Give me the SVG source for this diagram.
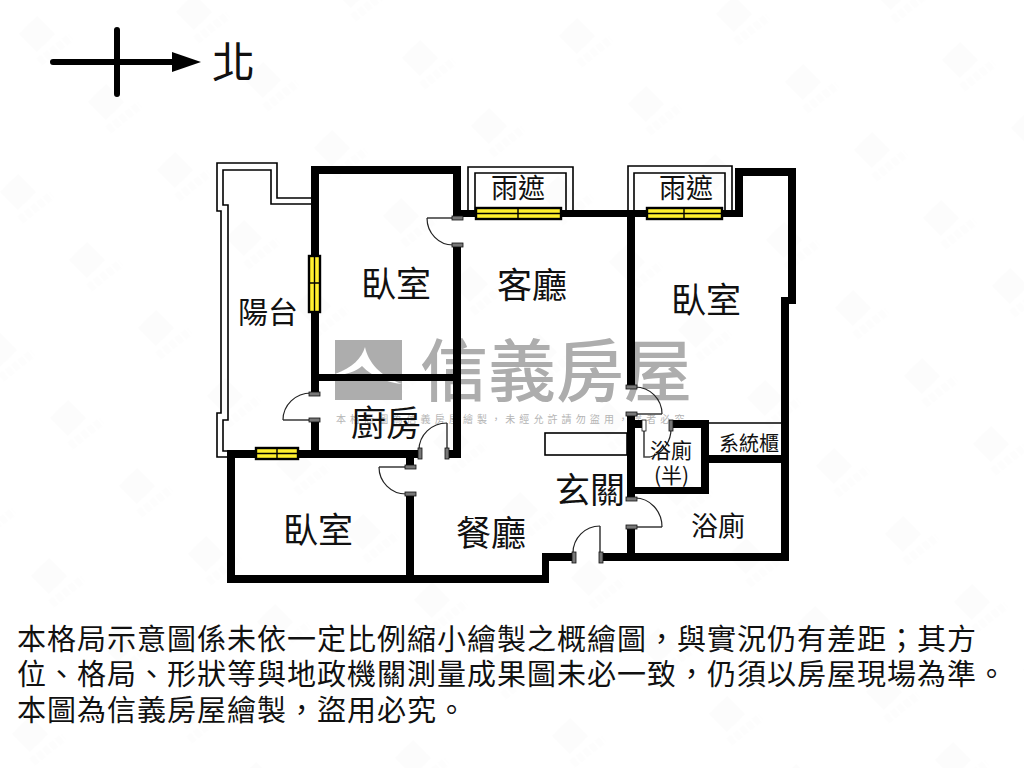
<svg xmlns="http://www.w3.org/2000/svg" width="1024" height="768" viewBox="0 0 1024 768">
<style>
text{font-family:"Noto Sans CJK TC","Noto Sans CJK SC",sans-serif;fill:#111}
.w{fill:#000}
.t{fill:none;stroke:#000;stroke-width:1.6}
.d{fill:none;stroke:#222;stroke-width:1.2}
.l{stroke:#444;stroke-width:1.6;fill:none}
.j{fill:#777;stroke:#111;stroke-width:.8}
.g{fill:#ffef2e;stroke:#000;stroke-width:2.4}
.m{stroke:#000;stroke-width:1.4;fill:none}
.r1{font-size:35px}
.r2{font-size:27px}
.n{font-size:29px;letter-spacing:1px}
</style>
<defs>
<pattern id="faint" width="1" height="1" patternUnits="userSpaceOnUse" patternTransform="matrix(157 -22 69 68 -95 169)">
<g transform="translate(.5 .5) matrix(.005576 .001804 -.005658 .012875 0 0)">
<path d="M0 -18L18 0L0 18L-18 0Z" fill="#fcfcfc"/>
<path d="M2 28L34 3" stroke="#fdfdfd" stroke-width="9" stroke-dasharray="6 2" fill="none"/>
</g>
</pattern>
</defs>
<rect width="1024" height="768" fill="#fff"/>
<rect id="faint-marks" width="1024" height="768" fill="url(#faint)"/>
<g id="watermark">
<rect x="335" y="340" width="67" height="60" fill="#adadad"/>
<path d="M335 374C352 368 362 358 365 347C368 362 380 376 402 384C386 382 374 378 362 366C356 372 346 374 335 376Z" fill="#fff"/>
<text x="420" y="396" style="font-size:68px;font-weight:500;fill:#adadad">信義房屋</text>
<text x="336" y="423" style="font-size:10px;letter-spacing:4.1px;fill:#b4b4b4">本格局圖為信義房屋繪製&#xFF0C;未經允許請勿盜用&#xFF0C;違者必究</text>
</g>
<g id="compass">
<path d="M53 62H175M117 30V94" stroke="#000" stroke-width="6" stroke-linecap="round" fill="none"/>
<path d="M172 52L201 62L172 72Z" fill="#000"/>
<text x="212" y="78" style="font-size:43px">北</text>
</g>
<g id="thin-walls">
<path class="t" d="M311 198H277V163H217V211H221V413H217V457H227"/>
<path class="t" d="M311 204H271V170H223V205H228V420H223V451H227"/>
<path class="t" d="M468 210V167H573V210M475 210V173H566V210"/>
<path class="t" d="M628 210V166H732V210M634 210V173H725V210"/>
<rect class="t" x="545" y="433" width="82" height="22"/>
<path class="t" d="M709 423H781"/>
</g>
<g id="walls" class="w">
<rect x="311" y="166" width="150" height="8"/>
<rect x="311" y="166" width="8" height="227"/>
<rect x="311" y="421" width="8" height="29"/>
<rect x="453" y="166" width="8" height="52"/>
<rect x="453" y="245" width="8" height="213"/>
<rect x="319" y="374" width="134" height="7"/>
<rect x="227" y="450" width="192" height="8"/>
<rect x="447" y="450" width="14" height="8"/>
<rect x="227" y="450" width="8" height="133"/>
<rect x="227" y="575" width="322" height="8"/>
<rect x="542" y="553" width="7" height="30"/>
<rect x="542" y="553" width="31" height="8"/>
<rect x="406" y="458" width="8" height="8"/>
<rect x="406" y="494" width="8" height="81"/>
<rect x="601" y="553" width="188" height="8"/>
<rect x="781" y="297" width="8" height="264"/>
<rect x="781" y="297" width="15" height="7"/>
<rect x="788" y="168" width="8" height="136"/>
<rect x="735" y="168" width="61" height="8"/>
<rect x="735" y="168" width="8" height="49"/>
<rect x="453" y="210" width="290" height="7"/>
<rect x="627" y="210" width="8" height="177"/>
<rect x="627" y="414" width="8" height="84"/>
<rect x="627" y="527" width="8" height="26"/>
<rect x="627" y="420" width="16" height="8"/>
<rect x="671" y="420" width="38" height="8"/>
<rect x="701" y="420" width="8" height="74"/>
<rect x="627" y="487" width="82" height="7"/>
<rect x="709" y="455" width="72" height="8"/>
</g>
<g id="windows">
<rect class="g" x="476" y="208" width="85" height="11"/><path class="m" d="M476 213.500H561M518 208V219"/>
<rect class="g" x="647" y="208" width="75" height="11"/><path class="m" d="M647 213.500H722M684 208V219"/>
<rect class="g" x="309" y="256" width="11" height="56"/><path class="m" d="M314.500 256V312M309 283H320"/>
<rect class="g" x="256" y="448" width="42" height="11"/><path class="m" d="M256 453.500H298M277 448V459"/>
</g>
<g id="doors">
<g><path class="l" d="M453 218H427"/><path class="d" d="M427 218A26 27 0 0 0 453 245"/><rect class="j" x="452" y="216" width="11" height="4"/><rect class="j" x="452" y="243" width="11" height="4"/></g>
<g><path class="l" d="M311 420H283"/><path class="d" d="M283 420A28 27 0 0 1 311 393"/><rect class="j" x="309" y="392" width="11" height="4"/><rect class="j" x="309" y="418" width="11" height="4"/></g>
<g><path class="l" d="M447 450V423"/><path class="d" d="M447 423A28 27 0 0 0 419 450"/><rect class="j" x="418" y="448" width="4" height="11"/><rect class="j" x="445" y="448" width="4" height="11"/></g>
<g><path class="l" d="M406 467H379"/><path class="d" d="M379 467A27 27 0 0 0 406 494"/><rect class="j" x="405" y="465" width="11" height="4"/><rect class="j" x="405" y="492" width="11" height="4"/></g>
<g><path class="l" d="M635 414H662"/><path class="d" d="M662 414A27 27 0 0 0 635 387"/><rect class="j" x="626" y="385" width="11" height="4"/><rect class="j" x="626" y="412" width="11" height="4"/></g>
<g><path class="l" d="M644 428V457H650"/><path class="d" d="M671 428A28 29 0 0 1 650 457"/><rect class="j" x="642" y="420" width="4" height="11" style="fill:#fff"/><rect class="j" x="669" y="420" width="4" height="11"/></g>
<g><path class="l" d="M635 527H662"/><path class="d" d="M662 527A27 29 0 0 0 635 498"/><rect class="j" x="626" y="497" width="11" height="4"/><rect class="j" x="626" y="525" width="11" height="4"/></g>
<g><path class="l" d="M600 553V526"/><path class="d" d="M600 526A27 27 0 0 0 573 553"/><rect class="j" x="572" y="552" width="4" height="11"/><rect class="j" x="599" y="552" width="4" height="11"/></g>
</g>
<g id="labels">
<text class="r1" x="361" y="297">臥室</text>
<text class="r1" x="497" y="298">客廳</text>
<text class="r1" x="671" y="313">臥室</text>
<text x="238" y="323" style="font-size:30px">陽台</text>
<text class="r1" x="351" y="436">廚房</text>
<text class="r1" x="555" y="503">玄關</text>
<text class="r1" x="456" y="546">餐廳</text>
<text class="r1" x="283" y="543">臥室</text>
<text class="r2" x="691" y="536">浴廁</text>
<text x="719" y="451" style="font-size:20px">系統櫃</text>
<text x="650" y="458" style="font-size:21px">浴廁</text>
<text x="654" y="483" style="font-size:21px">(半)</text>
<text class="r2" x="491" y="198">雨遮</text>
<text class="r2" x="659" y="198">雨遮</text>
</g>
<g id="note">
<text class="n" x="17" y="650">本格局示意圖係未依一定比例縮小繪製之概繪圖&#xFF0C;與實況仍有差距&#xFF1B;其方</text>
<text class="n" x="17" y="685">位、格局、形狀等與地政機關測量成果圖未必一致&#xFF0C;仍須以房屋現場為準。</text>
<text class="n" x="17" y="721">本圖為信義房屋繪製&#xFF0C;盜用必究。</text>
</g>
</svg>
